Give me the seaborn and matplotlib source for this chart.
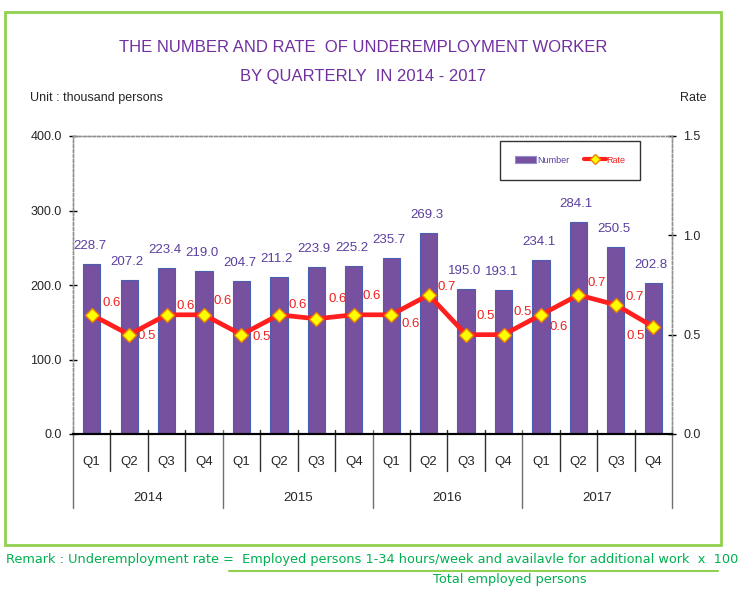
import numpy as np
import pandas as pd
import matplotlib
matplotlib.use("Agg")
import matplotlib.pyplot as plt
import seaborn as sns
from matplotlib.patches import Rectangle, Patch
from matplotlib.lines import Line2D
import matplotlib.transforms as mtrans

# data
years = ['2014', '2015', '2016', '2017']
quarters = ['Q1', 'Q2', 'Q3', 'Q4']
numbers = [228.7, 207.2, 223.4, 219.0,
           204.7, 211.2, 223.9, 225.2,
           235.7, 269.3, 195.0, 193.1,
           234.1, 284.1, 250.5, 202.8]
rates = [0.60, 0.50, 0.60, 0.60,
         0.50, 0.60, 0.58, 0.60,
         0.60, 0.70, 0.50, 0.50,
         0.60, 0.70, 0.65, 0.54]

# where each rate label sits relative to its marker (pixels)
rate_label_offsets = [(20, 12), (18, -1), (19, 9), (19, 14),
                      (20, -2), (19, 10), (21, 20), (18, 19),
                      (19, -9), (18, 8), (20, 19), (19, 23),
                      (18, -12), (18, 12), (19, 8), (-18, -9)]

df = pd.DataFrame({
    'period': [f'{y} {q}' for y in years for q in quarters],
    'number': numbers,
    'rate': rates,
})

sns.set_style('white')
plt.rcParams['font.family'] = ['Liberation Sans', 'DejaVu Sans']

purple = '#7850A0'
label_purple = '#5B3F9E'
red = '#FF1F1F'
green_line = '#92D050'
green_text = '#00B050'

fig = plt.figure(figsize=(7.42, 5.90), dpi=100)
ax = fig.add_axes([73 / 742, 1 - 434 / 590, 599 / 742, 298 / 590])

sns.barplot(data=df, x='period', y='number', color=purple, saturation=1,
            width=0.46, edgecolor='#4A5FB0', linewidth=0.8, ax=ax)
ax.set_xlim(-0.5, len(df) - 0.5)
ax.set_ylim(0, 400)
ax.set_yticks([0, 100, 200, 300, 400])
ax.set_yticklabels([f'{v:.1f}' for v in [0, 100, 200, 300, 400]])
ax.set_xlabel('')
ax.set_ylabel('')
ax.set_xticks([])

for i, v in enumerate(numbers):
    ax.annotate(f'{v:.1f}', (i, v), xytext=(-2, 18), textcoords='offset pixels',
                ha='center', va='center', fontsize=9.5, color=label_purple)

ax2 = ax.twinx()
sns.lineplot(x=np.arange(len(df)), y=df['rate'], ax=ax2, color=red, lw=3.4,
             marker='D', markersize=7, markerfacecolor='#FFFF00',
             markeredgecolor='#F08000', markeredgewidth=1)
ax2.set_ylim(0, 1.5)
ax2.set_yticks([0, 0.5, 1.0, 1.5])
ax2.set_yticklabels(['0.0', '0.5', '1.0', '1.5'])
ax2.set_ylabel('')
ax2.set_xlim(-0.5, len(df) - 0.5)

for i, (r, (dx, dy)) in enumerate(zip(rates, rate_label_offsets)):
    ax2.annotate(f'{r:.1f}', (i, r), xytext=(dx, dy), textcoords='offset pixels',
                 ha='center', va='center', fontsize=9.5, color='#F02020')

# frame: dotted gray sides, solid black base
for a in (ax, ax2):
    for s in ('left', 'right', 'top'):
        a.spines[s].set_linestyle((0, (2, 1.5)))
        a.spines[s].set_color('#909090')
        a.spines[s].set_linewidth(1)
    a.spines['bottom'].set_color('black')
    a.spines['bottom'].set_linewidth(1.5)
ax.tick_params(axis='y', direction='inout', length=6, width=1, color='black',
               labelsize=9, pad=5, left=True, right=False)
ax2.tick_params(axis='y', direction='inout', length=6, width=1, color='black',
                labelsize=9, pad=5, right=True)

# two-level category axis
tr = mtrans.blended_transform_factory(ax.transData, ax.transAxes)
n = len(df)
for k in range(n + 1):
    x = k - 0.5
    if k % 4 == 0:
        ax.plot([x, x], [0.013, -0.248], transform=tr, color='#707070', lw=1, clip_on=False)
    else:
        ax.plot([x, x], [0.013, -0.124], transform=tr, color='#303030', lw=1, clip_on=False)
for i in range(n):
    ax.text(i, -0.094, quarters[i % 4], transform=tr, ha='center', va='center', fontsize=9.5)
for j, y in enumerate(years):
    ax.text(j * 4 + 1.5, -0.215, y, transform=tr, ha='center', va='center', fontsize=9.5)

# legend
handles = [Patch(facecolor=purple, edgecolor='#9090D0', lw=0.8),
           Line2D([0], [0], color=red, lw=3, marker='D', markersize=5,
                  markerfacecolor='#FFFF00', markeredgecolor='#F08000')]
leg = ax2.legend(handles, ['Number', 'Rate'], loc='center', bbox_to_anchor=(0.83, 0.919),
                 ncol=2, fontsize=6.5, frameon=True, fancybox=False, edgecolor='black',
                 borderpad=1.65, columnspacing=1.6, handlelength=2.4, handletextpad=0.1)
leg.get_frame().set_linewidth(1)
leg.get_texts()[0].set_color(label_purple)
leg.get_texts()[1].set_color('#F02020')

# titles and notes
fig.text(363 / 742, 1 - 47 / 590, 'THE NUMBER AND RATE  OF UNDEREMPLOYMENT WORKER',
         ha='center', va='center', fontsize=12, color='#7030A0')
fig.text(363 / 742, 1 - 77 / 590, 'BY QUARTERLY  IN 2014 - 2017',
         ha='center', va='center', fontsize=12, color='#7030A0')
fig.text(30 / 742, 1 - 98 / 590, 'Unit : thousand persons', ha='left', va='center', fontsize=9)
fig.text(680 / 742, 1 - 98 / 590, 'Rate', ha='left', va='center', fontsize=9)

fig.patches.append(Rectangle((5 / 742, 1 - 545 / 590), 716 / 742, 533 / 590,
                             transform=fig.transFigure, fill=False,
                             edgecolor=green_line, lw=2))

fig.text(6 / 742, 1 - 559 / 590,
         'Remark : Underemployment rate =  Employed persons 1-34 hours/week and availavle for additional work  x  100',
         ha='left', va='center', fontsize=9.3, color=green_text, family='DejaVu Sans')
fig.add_artist(Line2D([229 / 742, 718 / 742], [1 - 571 / 590, 1 - 571 / 590],
                      transform=fig.transFigure, color=green_line, lw=1.5))
fig.text(510 / 742, 1 - 580 / 590, 'Total employed persons', ha='center', va='center',
         fontsize=9.3, color=green_text, family='DejaVu Sans')

fig.savefig('out.png', dpi=100)
